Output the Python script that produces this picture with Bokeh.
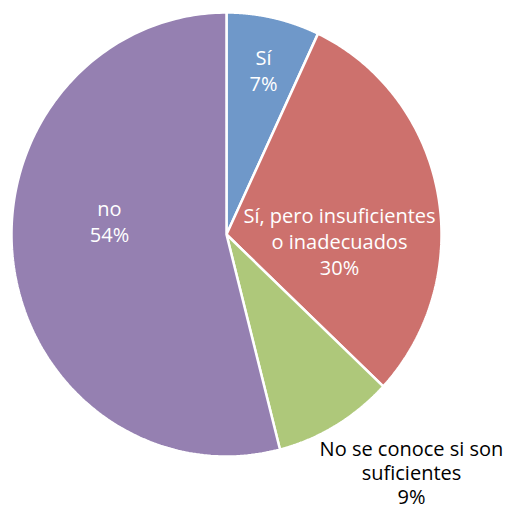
import numpy as np
from bokeh.plotting import figure
from bokeh.models import Range1d
from bokeh.core.properties import value
from bokeh.embed import file_html
from bokeh.resources import INLINE

categories = ["Sí", "Sí, pero insuficientes\no inadecuados", "No se conoce si son\nsuficientes", "no"]
shares = [7, 30, 9, 54]
colors = ["#6f98c9", "#cd716d", "#aec87a", "#9580b1"]
label_colors = ["white", "white", "black", "white"]

W, H = 505, 516
p = figure(width=W, height=H, output_backend="svg", toolbar_location=None,
           x_range=Range1d(0, W), y_range=Range1d(0, H), min_border=0)
p.axis.visible = False
p.grid.visible = False
p.outline_line_color = None
p.background_fill_color = "white"

# pie geometry in screen-like units (y measured from bottom)
cx, cy = 226, H - 234
rx, ry = 215, 222

total = float(sum(shares))
fr = np.cumsum([0] + shares) / total
xs, ys = [], []
for i in range(len(shares)):
    t = np.linspace(fr[i], fr[i + 1], 200) * 2 * np.pi
    ang = np.pi / 2 - t
    px = np.concatenate([[cx], cx + rx * np.cos(ang), [cx]])
    py = np.concatenate([[cy], cy + ry * np.sin(ang), [cy]])
    xs.append(list(px))
    ys.append(list(py))

p.patches(xs, ys, fill_color=colors, line_color="white", line_width=2.5)

# label anchor offsets from the pie centre (layout only)
label_off = [(37, 164), (113, -7), (185, -238), (-117, 13)]
line_h = [0.98, 0.98, 0.9, 0.98]
for i, (cat, s) in enumerate(zip(categories, shares)):
    lx = cx + label_off[i][0]
    ly = cy + label_off[i][1]
    txt = cat + "\n" + f"{s}%"
    p.text(x=[lx], y=[ly], text=[txt], text_align="center", text_baseline="middle",
           text_color=label_colors[i], text_font=value("Open Sans"),
           text_font_size="20px", text_line_height=line_h[i])

open("out.html", "w").write(file_html(p, INLINE))
